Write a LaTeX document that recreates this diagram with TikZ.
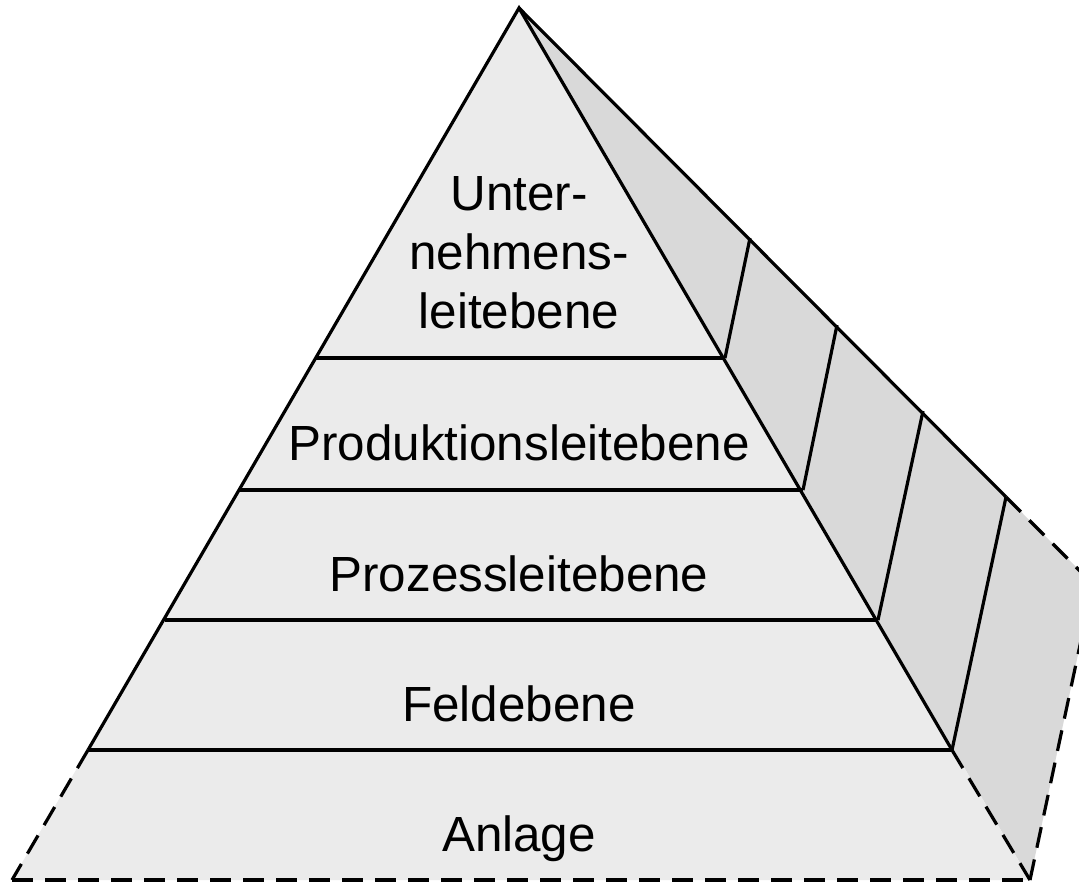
\documentclass[tikz,border=0pt]{standalone}
\usepackage{fontspec}
\setmainfont{Liberation Sans}
\begin{document}
\begin{tikzpicture}[x=1pt,y=-1pt,
  edge/.style={line width=3.2pt},
  dashedge/.style={line width=3.2pt,dash pattern=on 21pt off 12pt},
  frontface/.style={fill=black!8},
  sideface/.style={fill=black!15},
  layertext/.style={font=\fontsize{49.4}{59}\selectfont,anchor=base,align=center,inner sep=0pt}]
\useasboundingbox (0,0) rectangle (1079,883);
\clip (0,0) rectangle (1079,883);

% corner points of the pyramid
\coordinate (apex) at (519,8);
\coordinate (bl) at (12,880);
\coordinate (br) at (1030,880);
\coordinate (sideout) at (1093,584);
% layer boundaries on the left and right edges
\coordinate (l1) at (315,358);  \coordinate (r1) at (725,358);
\coordinate (l2) at (240,490);  \coordinate (r2) at (803,490);
\coordinate (l3) at (165,620);  \coordinate (r3) at (878,620);
\coordinate (l4) at (88,750);   \coordinate (r4) at (952,750);
% points on the outer edge of the side face
\coordinate (s1) at (750,238);
\coordinate (s2) at (837,325);
\coordinate (s3) at (923,411);
\coordinate (s4) at (1006,497);

% faces
\fill[sideface] (apex) -- (sideout) -- (br) -- cycle;
\fill[frontface] (apex) -- (bl) -- (br) -- cycle;

% solid edges
\draw[edge] (l4) -- (apex) -- (r4);
\draw[edge] (apex) -- (s4);
\draw[edge] (l1) -- (r1) (l2) -- (r2) (l3) -- (r3) (l4) -- (r4);
\draw[edge] (r1) -- (s1) (r2) -- (s2) (r3) -- (s3) (r4) -- (s4);

% dashed base layer
\draw[dashedge] (l4) -- (bl);
\draw[dashedge] (r4) -- (br);
\draw[dashedge] (bl) -- (br);
\draw[dashedge] (s4) -- (sideout);
\draw[dashedge] (br) -- (sideout);

% layer labels (a multi-line node sits on the baseline of its last line)
\node[layertext] (unternehmen) at (519,328) {Unter-\\nehmens-\\leitebene};
\node[layertext] (produktion) at (519,460) {Produktionsleitebene};
\node[layertext] (prozess) at (519,591) {Prozessleitebene};
\node[layertext] (feld) at (519,721) {Feldebene};
\node[layertext] (anlage) at (519,851) {Anlage};
\end{tikzpicture}
\end{document}
